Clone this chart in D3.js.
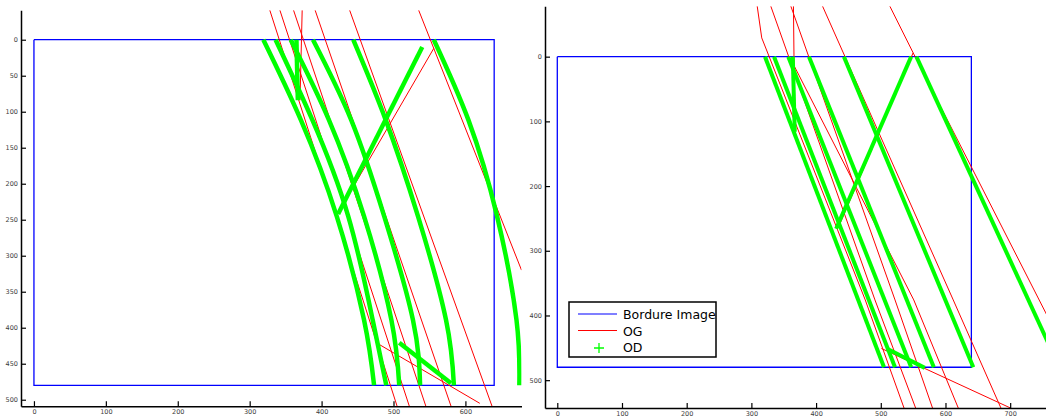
<!DOCTYPE html>
<html lang="en">
  <head>
    <meta charset="UTF-8" />
    <title></title>
    <script src="https://d3js.org/d3.v7.min.js"></script>
    <style>
      body { margin: 0; background: #fff; }
    </style>
  </head>
  <body>
    <div id="my_dataviz"></div>
    <script>
      // image border (Bordure Image), same for both plots
      const border = [[0, 0], [640, 0], [640, 480], [0, 480], [0, 0]]

      // left plot : OG (red fits) and OD (green points)
      const leftOG = [
        [[328, -41], [505, 509]],
        [[342, -41], [522, 509]],
        [[361, -41], [545, 509]],
        [[391, -41], [580, 509]],
        [[439, -41], [637, 509]],
        [[535, -41], [678, 320]],
        [[373, -41], [370, 84]],
        [[556, 12], [424, 239]],
        [[478, 422], [620, 505]]
      ]
      const leftOD = [
        [[319, 0], [371, 111], [421, 245], [459, 389], [473, 480]],
        [[336, 0], [387, 111], [437, 245], [471, 389], [490, 480]],
        [[357, 0], [410, 111], [459, 245], [497, 389], [508, 480]],
        [[388, 0], [441, 111], [487, 245], [527, 389], [537, 480]],
        [[444, 0], [489, 111], [534, 245], [573, 389], [584, 480]],
        [[556, 0], [604, 111], [644, 245], [671, 389], [675, 480]],
        [[365, 0], [367, 84]],
        [[540, 10], [423, 242]],
        [[508, 421], [580, 477]]
      ]

      // right plot
      const rightOG = [
        [[309, -78], [316, -29], [476, 376], [537, 546]],
        [[330, -78], [491, 376], [555, 546]],
        [[361, -78], [522, 376], [581, 546]],
        [[365, -78], [366, 14], [551, 376], [621, 546]],
        [[410, -78], [612, 376], [687, 546]],
        [[514, -78], [550, -6], [755, 396], [831, 546]],
        [[550, -6], [434, 265]],
        [[501, 451], [707, 546]]
      ]
      const rightOD = [
        [[321, 0], [505, 480]],
        [[335, 0], [522, 480]],
        [[357, 0], [547, 480]],
        [[389, 0], [582, 480]],
        [[443, 0], [643, 480]],
        [[555, 0], [776, 480]],
        [[364, 0], [367, 116]],
        [[547, 0], [431, 266]],
        [[509, 451], [568, 481]]
      ]

      const leftXTicks = [0, 100, 200, 300, 400, 500, 600]
      const leftYTicks = [0, 50, 100, 150, 200, 250, 300, 350, 400, 450, 500]
      const rightXTicks = [0, 100, 200, 300, 400, 500, 600, 700]
      const rightYTicks = [0, 100, 200, 300, 400, 500]

      const legendItems = ['Bordure Image', 'OG', 'OD']

      const svg = d3
        .select('#my_dataviz')
        .append('svg')
        .attr('width', 1046)
        .attr('height', 417)
        .style('display', 'block')

      function drawPanel(id, p) {
        const x = d3.scaleLinear().domain(p.xDomain).range(p.xRange)
        const y = d3.scaleLinear().domain(p.yDomain).range(p.yRange)
        const g = svg.append('g')

        // clip to the axes area
        g.append('clipPath')
          .attr('id', 'clip-' + id)
          .append('rect')
          .attr('x', p.xRange[0])
          .attr('y', p.yRange[0])
          .attr('width', p.xRange[1] - p.xRange[0])
          .attr('height', p.yRange[1] - p.yRange[0])

        const plot = g.append('g').attr('clip-path', `url(#clip-${id})`)

        const line = d3
          .line()
          .x(d => x(d[0]))
          .y(d => y(d[1]))
        const curve = d3
          .line()
          .curve(d3.curveNatural)
          .x(d => x(d[0]))
          .y(d => y(d[1]))

        plot
          .append('path')
          .datum(border)
          .attr('d', line)
          .attr('fill', 'none')
          .attr('stroke', '#0000ff')
          .attr('stroke-width', 1.3)

        plot
          .selectAll('.og')
          .data(p.og)
          .join('path')
          .attr('class', 'og')
          .attr('d', line)
          .attr('fill', 'none')
          .attr('stroke', '#ff0000')
          .attr('stroke-width', 1)

        plot
          .selectAll('.od')
          .data(p.od)
          .join('path')
          .attr('class', 'od')
          .attr('d', curve)
          .attr('fill', 'none')
          .attr('stroke', '#00ff00')
          .attr('stroke-width', p.odWidth)

        // axes (ticks pointing inside)
        const xAxis = g
          .append('g')
          .attr('transform', `translate(0, ${p.yRange[1]})`)
          .call(
            d3
              .axisBottom(x)
              .tickValues(p.xTicks)
              .tickSizeInner(-5)
              .tickSizeOuter(0)
              .tickPadding(3)
          )
        const yAxis = g
          .append('g')
          .attr('transform', `translate(${p.xRange[0]}, 0)`)
          .call(
            d3
              .axisLeft(y)
              .tickValues(p.yTicks)
              .tickSizeInner(-5)
              .tickSizeOuter(0)
              .tickPadding(3)
          )
        ;[xAxis, yAxis].forEach(a => {
          a.select('.domain').attr('stroke', '#000').attr('stroke-width', 1.5)
          a.selectAll('.tick line').attr('stroke', '#000').attr('stroke-width', 1.2)
          a.selectAll('.tick text')
            .attr('fill', '#3c3c3c')
            .attr('font-family', 'DejaVu Sans, sans-serif')
            .attr('font-size', '6.5px')
        })
        return { x, y }
      }

      drawPanel('left', {
        xDomain: [-18, 678],
        xRange: [21, 521.5],
        yDomain: [-41, 509],
        yRange: [10.2, 406.2],
        xTicks: leftXTicks,
        yTicks: leftYTicks,
        og: leftOG,
        od: leftOD,
        odWidth: 4.5
      })

      drawPanel('right', {
        xDomain: [-19, 760],
        xRange: [545, 1049],
        yDomain: [-78, 543],
        yRange: [6.2, 408],
        xTicks: rightXTicks,
        yTicks: rightYTicks,
        og: rightOG,
        od: rightOD,
        odWidth: 4
      })

      // legend
      const legend = svg.append('g').attr('transform', 'translate(569, 302)')
      legend
        .append('rect')
        .attr('width', 147)
        .attr('height', 55)
        .attr('fill', '#fff')
        .attr('stroke', '#000')
        .attr('stroke-width', 1.5)
      const colors = ['#0000ff', '#ff0000', '#00ff00']
      legendItems.forEach((name, i) => {
        const cy = 12 + i * 16.5
        if (i < 2) {
          legend
            .append('line')
            .attr('x1', 9)
            .attr('x2', 48)
            .attr('y1', cy)
            .attr('y2', cy)
            .attr('stroke', colors[i])
            .attr('stroke-width', 1.2)
        } else {
          legend
            .append('path')
            .attr('d', `M25,${cy + 1}h10M30,${cy - 4}v10`)
            .attr('stroke', colors[i])
            .attr('stroke-width', 1.3)
        }
        legend
          .append('text')
          .attr('x', 54)
          .attr('y', cy + 5)
          .attr('font-family', 'DejaVu Sans, sans-serif')
          .attr('font-size', '12.5px')
          .attr('fill', '#000')
          .text(name)
      })
    </script>
  </body>
</html>
